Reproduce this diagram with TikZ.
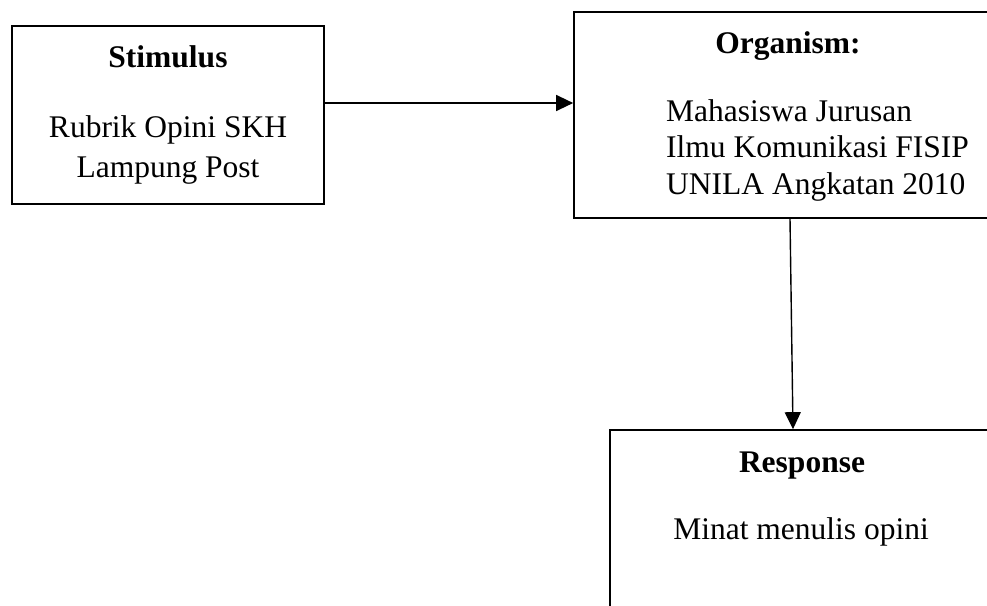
\documentclass[tikz,border=0pt]{standalone}
\usepackage{fontspec}
\setmainfont{Liberation Serif}
\usetikzlibrary{arrows.meta,calc}
\begin{document}
\begin{tikzpicture}[x=1pt,y=-1pt,
  box/.style={draw=black,line width=1.7pt,rectangle,inner sep=0pt},
  txt/.style={anchor=base,inner sep=0pt,font=\fontsize{31.5}{37}\selectfont},
  ttl/.style={txt,font=\fontsize{31.5}{37}\selectfont\bfseries},
  conn/.style={line width=1.4pt,-{Triangle[length=17pt,width=16pt]}}]
\clip (0,0) rectangle (987,605);
\fill[white] (0,0) rectangle (987,605);
% boxes
\node[box,minimum width=312pt,minimum height=178pt] (stim) at (168,115) {};
\node[box,minimum width=426pt,minimum height=206pt] (org) at (787,115) {};
\node[box,minimum width=390pt,minimum height=190pt] (resp) at (805,525) {};
% texts
\node[ttl] (stimT) at (168,67) {Stimulus};
\node[txt] (stim1) at (168,137) {Rubrik Opini SKH};
\node[txt] (stim2) at (168,177) {Lampung Post};
\node[ttl] (orgT) at (788,53) {Organism:};
\node[txt,anchor=base west] (org1) at (666,121) {Mahasiswa Jurusan};
\node[txt,anchor=base west] (org2) at (666,157) {Ilmu Komunikasi FISIP};
\node[txt,anchor=base west] (org3) at (666,194) {UNILA Angkatan 2010};
\node[ttl] (respT) at (802,472) {Response};
\node[txt] (resp1) at (801,539) {Minat menulis opini};
% connectors
\coordinate (a1) at ($(stim.east)+(0,-12)$);
\draw[conn] (a1) -- (org.west |- a1);
\coordinate (b1) at ($(org.south)+(3,0)$);
\coordinate (b2) at ($(resp.north)+(-12,0)$);
\draw[conn] (b1) -- (b2);
\end{tikzpicture}
\end{document}
